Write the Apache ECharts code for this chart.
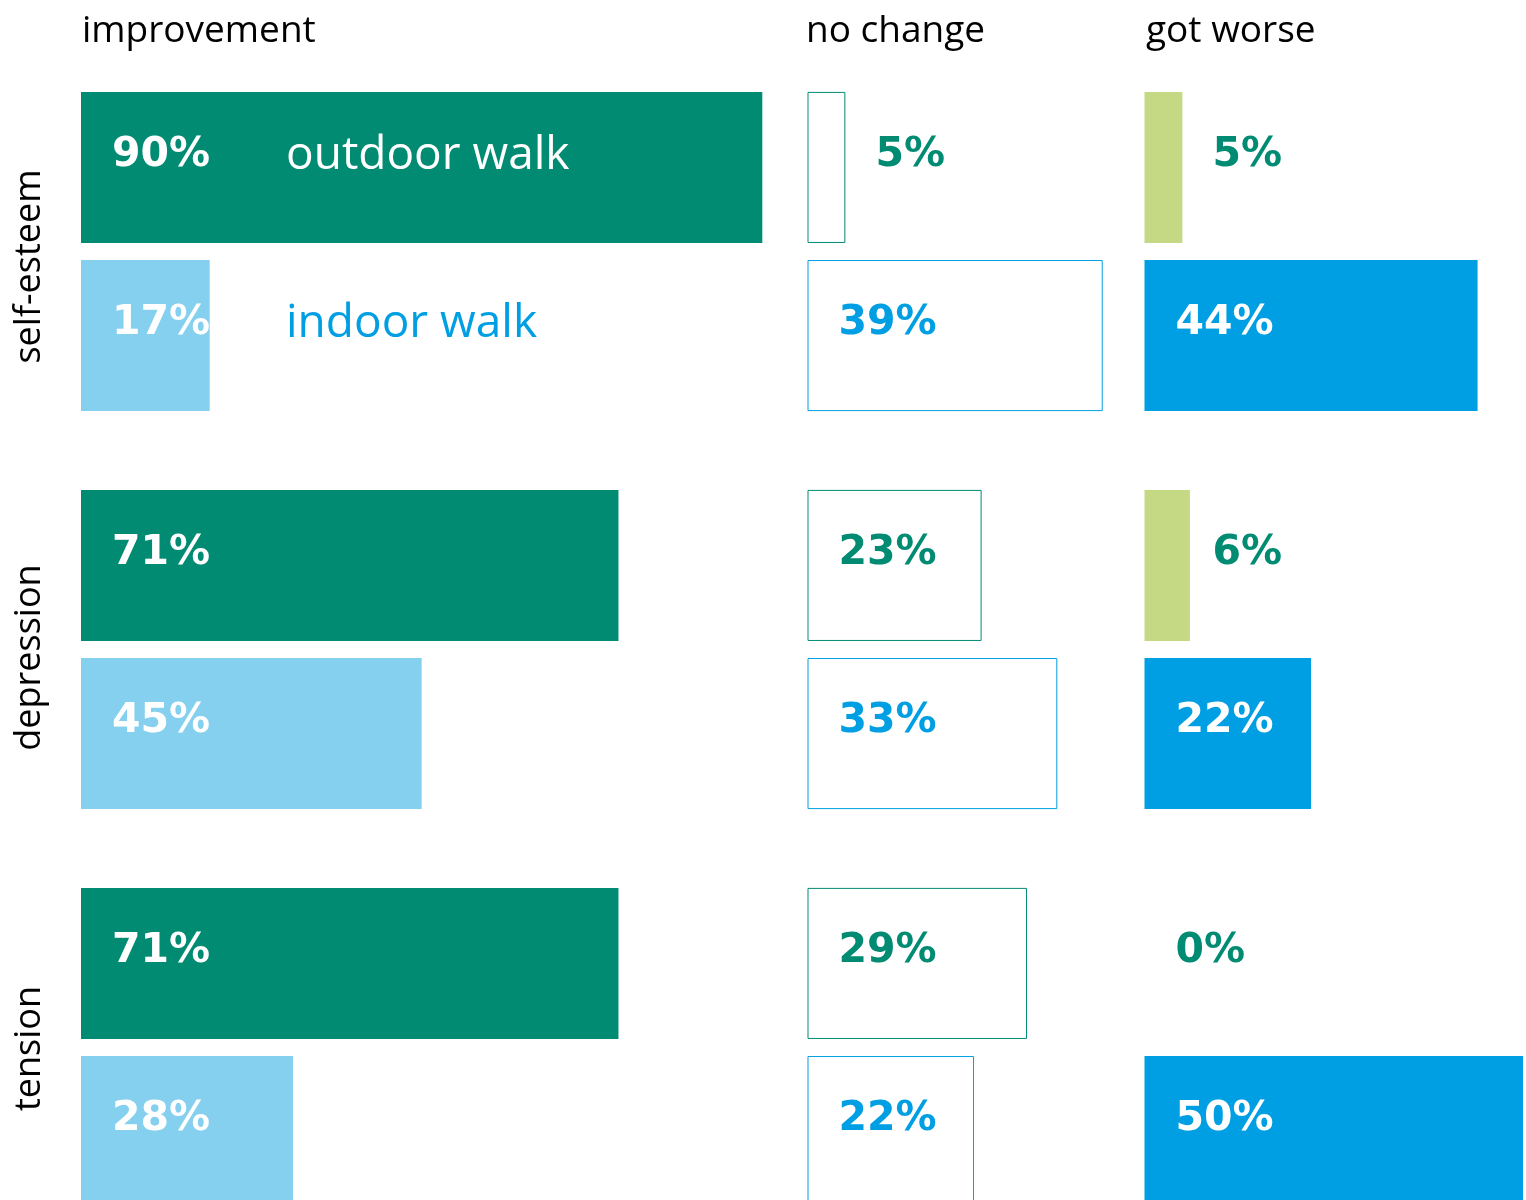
<!DOCTYPE html>
<html>
<head>
<meta charset="utf-8">
<script src="https://cdn.jsdelivr.net/npm/echarts@6/dist/echarts.min.js"></script>
<style>
  html, body { margin: 0; padding: 0; background: #fff; }
  #chart { width: 1526px; height: 1200px; }
</style>
</head>
<body>
<div id="chart"></div>
<script>
// data
const categories = ['self-esteem', 'depression', 'tension'];
const panelTitles = ['improvement', 'no change', 'got worse'];
const seriesNames = ['outdoor walk', 'indoor walk'];
const improveOutdoor = [90, 71, 71];
const improveIndoor = [17, 45, 28];
const sameOutdoor = [5, 23, 29];
const sameIndoor = [39, 33, 22];
const worseOutdoor = [5, 6, 0];
const worseIndoor = [44, 22, 50];

const TEAL = '#008b72';
const BLUE = '#009fe3';
const numFont = 'DejaVu Sans';
const textFont = 'Open Sans';

const chart = echarts.init(document.getElementById('chart'));

const panelLeft = [81, 807.5, 1144.5];
const grids = panelLeft.map(l => ({
  left: l, top: 52.5, width: 757, height: 1194, outerBoundsMode: 'none'
}));

// the group names sit a little below the middle of their group in the original
const catShift = [30, 16, 2];
const catData = categories.map((c, i) => ({ value: c, textStyle: { padding: [0, catShift[i], 0, 0] } }));

const xAxes = grids.map((g, i) => ({
  type: 'value', gridIndex: i, min: 0, max: 100,
  axisLine: { show: false }, axisTick: { show: false },
  axisLabel: { show: false }, splitLine: { show: false }
}));
const yAxes = grids.map((g, i) => ({
  type: 'category', gridIndex: i, data: catData, inverse: true,
  axisLine: { show: false }, axisTick: { show: false }, splitLine: { show: false },
  axisLabel: {
    show: i === 0, rotate: 90, margin: 33,
    fontFamily: textFont, fontSize: 36, color: '#000'
  }
}));

function labelOf(color) {
  return {
    show: true, position: 'insideLeft', distance: 31, offset: [0, -12],
    formatter: '{c}%', color: color, overflow: 'none',
    fontFamily: numFont, fontWeight: 'bold', fontSize: 41
  };
}

// small bars carry their label beside them
function items(values) {
  return values.map(v => {
    if (v > 0 && v < 10) return { value: v, label: { distance: 68 } };
    return v;
  });
}

function bar(name, values, axis, style, labelColor) {
  return {
    name: name, type: 'bar', xAxisIndex: axis, yAxisIndex: axis,
    barGap: '11.3%', barCategoryGap: '19.8%',
    itemStyle: style, label: labelOf(labelColor),
    data: items(values), silent: true
  };
}

const impOut = bar(seriesNames[0], improveOutdoor, 0, { color: TEAL }, '#fff');
const impIn = bar(seriesNames[1], improveIndoor, 0, { color: '#85cfef' }, '#fff');
// series names shown next to the first group, as in the original
const richP = { fontFamily: numFont, fontWeight: 'bold', fontSize: 41, color: '#fff', width: 174 };
const richN = { fontFamily: textFont, fontWeight: 'normal', fontSize: 46 };
impOut.data[0] = {
  value: improveOutdoor[0],
  label: {
    formatter: '{p|{c}%}{n|' + seriesNames[0] + '}',
    rich: { p: richP, n: Object.assign({ color: '#fff' }, richN) }
  }
};
impIn.data[0] = {
  value: improveIndoor[0],
  label: {
    formatter: '{p|{c}%}{n|' + seriesNames[1] + '}',
    rich: { p: richP, n: Object.assign({ color: BLUE }, richN) }
  }
};

const series = [
  impOut, impIn,
  bar(seriesNames[0], sameOutdoor, 1, { color: '#fff', borderColor: TEAL, borderWidth: 1 }, TEAL),
  bar(seriesNames[1], sameIndoor, 1, { color: '#fff', borderColor: BLUE, borderWidth: 1 }, BLUE),
  bar(seriesNames[0], worseOutdoor, 2, { color: '#c5d985' }, TEAL),
  bar(seriesNames[1], worseIndoor, 2, { color: BLUE }, '#fff')
];

const titleLeft = [82, 806, 1146];
const option = {
  animation: false,
  backgroundColor: '#fff',
  title: panelTitles.map((t, i) => ({
    text: t, left: titleLeft[i], top: 13, padding: 0,
    textStyle: { fontFamily: textFont, fontWeight: 'normal', fontSize: 37, color: '#000' }
  })),
  grid: grids,
  xAxis: xAxes,
  yAxis: yAxes,
  series: series
};
chart.setOption(option);
</script>
</body>
</html>
